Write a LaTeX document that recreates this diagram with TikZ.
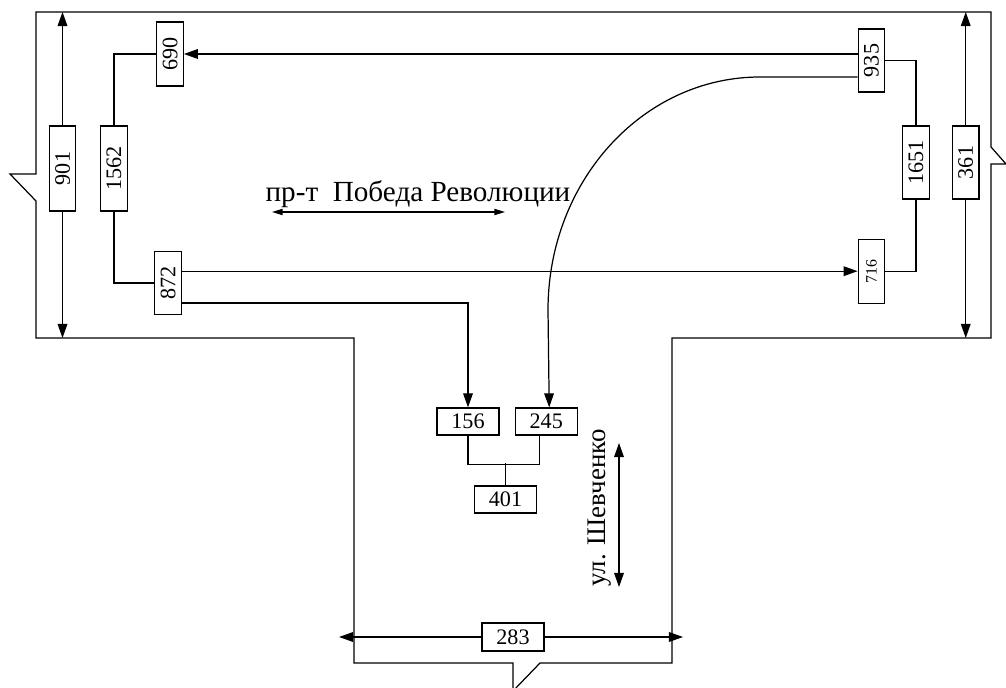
\documentclass[tikz,border=0pt]{standalone}
\usepackage{fontspec}
\setmainfont{Liberation Serif}
\usepackage{graphicx}
\usetikzlibrary{arrows.meta,positioning,calc}

\begin{document}
\begin{tikzpicture}[
    x=0.02cm, y=-0.02cm,
    line width=0.7pt,
    font=\fontsize{12.6}{14}\selectfont,
    % 横向与竖向的数字框
    hbox/.style={draw, fill=white, inner sep=0pt, minimum width=1.24cm, minimum height=0.54cm},
    vbox/.style={draw, fill=white, inner sep=0pt, minimum width=0.53cm, minimum height=#1},
    vbox/.default=1.28cm,
    arr/.style={-{Triangle[length=8pt,width=5.5pt]}},
    street/.style={{Triangle[length=6pt,width=3.5pt]}-{Triangle[length=6pt,width=3.5pt]}},
    streetv/.style={{Triangle[length=8pt,width=5.5pt]}-{Triangle[length=8pt,width=5.5pt]}}
]
\useasboundingbox (0,0) rectangle (1006,688);

% 路口轮廓
\draw (36,174) -- (36,12) -- (991,12) -- (991,147) -- (1006,164) -- (991,164)
      -- (991,338) -- (672,338) -- (672,663) -- (540,663) -- (513,691) -- (513,663)
      -- (354,663) -- (354,338) -- (36,338) -- (36,201) -- (10,174) -- cycle;

\coordinate (top) at (0,12);
\coordinate (bot) at (0,338);
\coordinate (pL) at (272,212);
\coordinate (pR) at (505,212);
\coordinate (sT) at (619,443);
\coordinate (sB) at (619,587);
\coordinate (dL) at (339,637);
\coordinate (dR) at (683,637);

% 数字框
\node[vbox=1.7cm] (b901) at (62.5,168.5) {\rotatebox{90}{901}};
\node[vbox=1.7cm] (b1562) at (114,168.5) {\rotatebox{90}{1562}};
\node[vbox] (b690) at (170,54) {\rotatebox{90}{690}};
\node[vbox=1.26cm] (b872) at (168,283) {\rotatebox{90}{872}};
\node[vbox=1.26cm] (b935) at (871.5,60.5) {\rotatebox{90}{935}};
\node[vbox, below=2.92cm of b935] (b716) {\rotatebox{90}{\fontsize{9}{10}\selectfont 716}};
\node[vbox=1.46cm] (b1651) at (916,162.5) {\rotatebox{90}{1651}};
\node[vbox=1.46cm, right=0.44cm of b1651] (b361) {\rotatebox{90}{361}};
\node[hbox] (b156) at (468,421.5) {156};
\node[hbox, right=0.3cm of b156] (b245) {245};
\node[hbox] (b401) at (505.5,499.5) {401};
\node[hbox, minimum height=0.56cm] (b283) at (513,637) {283};

% 街道名称
\node[anchor=base west, inner sep=0pt, font=\fontsize{16.6}{19}\selectfont] (prospekt) at (265,202) {пр-т\ \ Победа Революции};
\node[rotate=90, font=\fontsize{15.3}{17}\selectfont] (shev) at (600,508) {ул. Шевченко};
\draw[street] (pL) -- (pR);
\draw[streetv] (sT) -- (sB);

% 尺寸线
\draw[arr] (b901.north) -- (b901.north |- top);
\draw[arr] (b901.south) -- (b901.south |- bot);
\draw[arr] (b361.north) -- (b361.north |- top);
\draw[arr] (b361.south) -- (b361.south |- bot);
\draw[arr] (b283.west) -- (dL);
\draw[arr] (b283.east) -- (dR);

% 车流连线
\draw (b1562.north) |- (b690.west);
\draw (b1562.south) |- (b872.west);
\draw[arr] (b935.west |- b690.east) -- (b690.east);
\draw (b935.east) -| (b1651.north);
\draw (b1651.south) |- (b716.east);
\draw[arr] (b872.east |- b716.west) -- (b716.west);
\draw[arr] (b872.east |- 0,303) -| (b156.north);
\draw[arr] (b935.west |- 0,77) -- (760,77) .. controls (643,77) and (548,181) .. (548,310) -- ([xshift=0.06cm]b245.north);
\draw (b156.south) -- ++(0,29) -| ([xshift=-0.14cm]b245.south);
\draw (b401.north) -- ++(0,-22);
\end{tikzpicture}
\end{document}
